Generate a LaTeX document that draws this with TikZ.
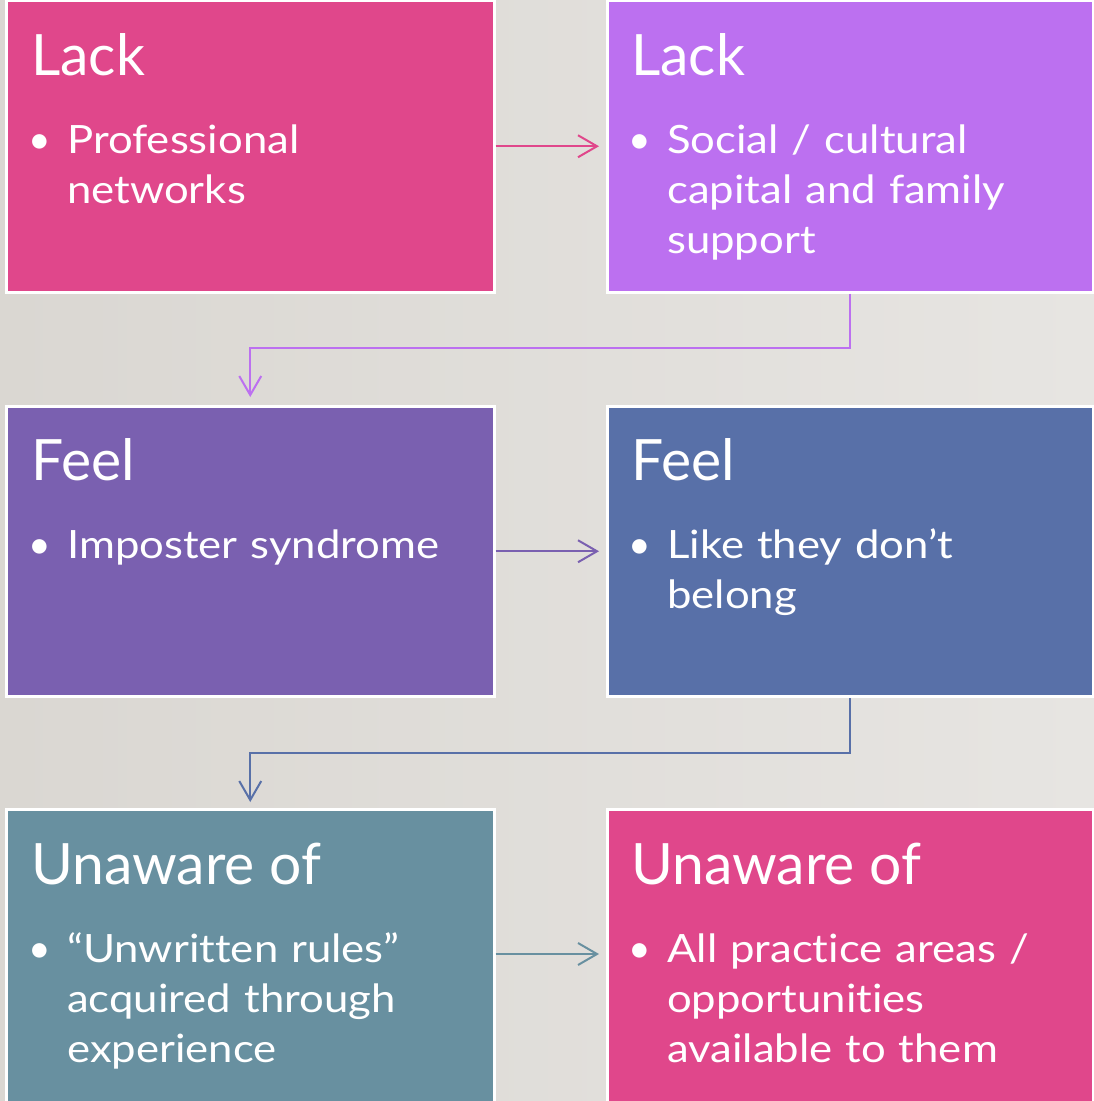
\documentclass[tikz,border=0pt]{standalone}
\usepackage{fontspec}
\setmainfont{Lato}[Ligatures=NoCommon]
\newfontfamily\bodyfam{Lato}[FakeStretch=1.12, Ligatures=NoCommon]
\usetikzlibrary{arrows.meta,calc}
\definecolor{cpink}{HTML}{E0478B}
\definecolor{cviolet}{HTML}{BC70F0}
\definecolor{cpurple}{HTML}{7A60B0}
\definecolor{cblue}{HTML}{5870A8}
\definecolor{cteal}{HTML}{6890A0}
\definecolor{bgL}{HTML}{DAD7D2}
\definecolor{bgR}{HTML}{E7E5E2}
\begin{document}
\begin{tikzpicture}[x=1pt,y=-1pt,
  box/.style={draw=white, line width=3pt, minimum width=#1, inner sep=0pt},
  ttl/.style={anchor=base west, inner sep=0pt, text=white, font=\fontsize{57}{60}\selectfont},
  btxt/.style={anchor=base west, inner sep=0pt, text=white, text width=430pt, align=left, font=\bodyfam\fontsize{39}{50}\selectfont},
  bul/.style={anchor=base, inner sep=0pt, text=white, font=\fontsize{39}{50}\selectfont},
  conn/.style={line width=2pt, -{Straight Barb[length=19pt,width=22pt]}}]
\useasboundingbox (0,0) rectangle (1094,1101);
\shade[left color=bgL, right color=bgR] (0,0) rectangle (1094,1101);
% boxes
\node[box=487.5pt, minimum height=291.5pt, fill=cpink]   (b1) at (250.25,146.25) {};
\node[box=486pt,   minimum height=291.5pt, fill=cviolet] (b2) at (850,146.25) {};
\node[box=487.5pt, minimum height=290.5pt, fill=cpurple] (b3) at (250.25,551.25) {};
\node[box=486pt,   minimum height=290.5pt, fill=cblue]   (b4) at (850,551.25) {};
\node[box=487.5pt, minimum height=296pt,   fill=cteal]   (b5) at (250.25,957) {};
\node[box=486pt,   minimum height=296pt,   fill=cpink]   (b6) at (850,957) {};
% texts
\node[ttl] (t1) at (31,75) {Lack};
\node[bul] (d1) at (40,153) {•};
\node[btxt] (p1) at (67,153) {Professional\\networks};
\node[ttl] (t2) at (631,75) {Lack};
\node[bul] (d2) at (640,153) {•};
\node[btxt] (p2) at (667,153) {Social / cultural\\capital and family\\support};
\node[ttl] (t3) at (31,480) {Feel};
\node[bul] (d3) at (40,558) {•};
\node[btxt] (p3) at (67,558) {Imposter syndrome};
\node[ttl] (t4) at (631,480) {Feel};
\node[bul] (d4) at (640,558) {•};
\node[btxt] (p4) at (667,558) {Like they don’t\\belong};
\node[ttl] (t5) at (31,884) {Unaware of};
\node[bul] (d5) at (40,962) {•};
\node[btxt] (p5) at (67,962) {“Unwritten rules”\\acquired through\\experience};
\node[ttl] (t6) at (631,884) {Unaware of};
\node[bul] (d6) at (640,962) {•};
\node[btxt] (p6) at (667,962) {All practice areas /\\opportunities\\available to them};
% connectors
\draw[conn, cpink] (b1.east) -- ([xshift=-6.5pt]b2.west);
\draw[conn, cviolet] (b2.south) -- ++(0,54.5) -| ([yshift=7.5pt]b3.north);
\draw[conn, cpurple] (b3.east) -- ([xshift=-6.5pt]b4.west);
\draw[conn, cblue] (b4.south) -- ++(0,55) -| ([yshift=5.5pt]b5.north);
\draw[conn, cteal] ($(b5.east)+(0,-3)$) -- ($(b6.west)+(-6.5,-3)$);
\end{tikzpicture}
\end{document}
